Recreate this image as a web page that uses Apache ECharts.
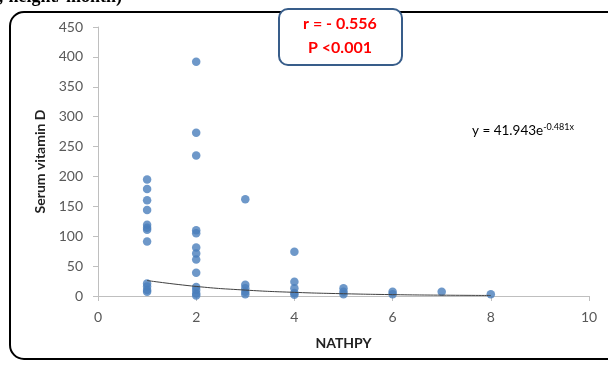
<!DOCTYPE html>
<html><head><meta charset="utf-8">
<script src="https://cdn.jsdelivr.net/npm/echarts@6/dist/echarts.min.js"></script>
<style>html,body{margin:0;padding:0;background:#fff;}#c{width:608px;height:371px;}</style>
</head><body><div id="c"></div>
<script>
// NATHPY (x) vs Serum vitamin D (y)
const xValues = [1,1,1,1,1,1,1,1,1,1,1,1,
  2,2,2,2,2,2,2,2,2,2,2,2,2,
  3,3,3,3,3,
  4,4,4,4,4,
  5,5,5,
  6,6,
  7,
  8];
const yValues = [195,179,160,144,119,114,111,91,21,16,10,7,
  392,273,235,110,105,81,71,61,39,15,10,4,1,
  162,19,13,7,3,
  74,24,13,5,2,
  13,7,3,
  7,3,
  7,
  3];
// exponential trendline y = 41.943e^-0.481x, values read at integer x
const trendX = [1,2,3,4,5,6,7,8];
const trendY = [25.9,16.0,9.9,6.1,3.8,2.3,1.4,0.9];
const xTicks = [0,2,4,6,8,10];
const yTicks = [0,50,100,150,200,250,300,350,400,450];

const scatterData = xValues.map((x,i)=>[x,yValues[i]]);
const trendData = trendX.map((x,i)=>[x,trendY[i]]);
const F = 'Lato, "Open Sans", sans-serif';

const chart = echarts.init(document.getElementById('c'));
chart.setOption({
  animation:false,
  backgroundColor:'#fff',
  grid:{left:98,right:19,top:27,bottom:75},
  xAxis:{type:'value',min:0,max:10,interval:2,
    name:'NATHPY',nameLocation:'middle',nameGap:40,
    nameTextStyle:{fontFamily:F,fontWeight:'bold',fontSize:14,color:'#222'},
    axisLine:{show:true,lineStyle:{color:'#bfbfbf',width:1}},
    axisTick:{show:true,length:5,lineStyle:{color:'#bfbfbf'}},
    splitLine:{show:false},
    axisLabel:{fontFamily:F,fontSize:14,color:'#595959',margin:14}},
  yAxis:{type:'value',min:0,max:450,interval:50,
    name:'Serum vitamin D',nameLocation:'middle',nameGap:45,
    nameTextStyle:{fontFamily:F,fontWeight:'bold',fontSize:14,color:'#222'},
    axisLine:{show:true,lineStyle:{color:'#bfbfbf',width:1}},
    axisTick:{show:true,length:5,inside:false,lineStyle:{color:'#bfbfbf'}},
    splitLine:{show:false},
    axisLabel:{fontFamily:F,fontSize:14,color:'#595959',margin:15}},
  series:[
    {type:'line',data:trendData,smooth:true,symbol:'none',
      lineStyle:{color:'#404040',width:1},z:3},
    {type:'scatter',data:scatterData,symbol:'circle',symbolSize:8.5,
      itemStyle:{color:'#4a7ebb'},z:2}
  ],
  graphic:[
    {type:'rect',shape:{x:10,y:12,width:640,height:347,r:14},
      style:{fill:'none',stroke:'#000',lineWidth:2},z:10},
    {type:'text',left:-2,top:-12,style:{text:'; height/ month)',font:'bold 18px "Liberation Serif", serif',fill:'#000'},z:11},
    {type:'rect',shape:{x:279,y:9,width:123,height:56,r:9},
      style:{fill:'#fff',stroke:'#385d8a',lineWidth:2},z:12},
    {type:'text',x:340,y:24,style:{text:'r = - 0.556',font:'bold 16px '+F,fill:'#ff0000',align:'center',verticalAlign:'middle'},z:13},
    {type:'text',x:340,y:48,style:{text:'P <0.001',font:'bold 16px '+F,fill:'#ff0000',align:'center',verticalAlign:'middle'},z:13},
    {type:'text',x:472,y:131,style:{
      text:'{a|y = 41.943e}{b|-0.481x}',
      verticalAlign:'middle',
      rich:{a:{fontFamily:F,fontSize:13.5,color:'#333'},
            b:{fontFamily:F,fontSize:9,color:'#333',padding:[0,0,8,0]}}},z:13}
  ]
});
</script></body></html>
